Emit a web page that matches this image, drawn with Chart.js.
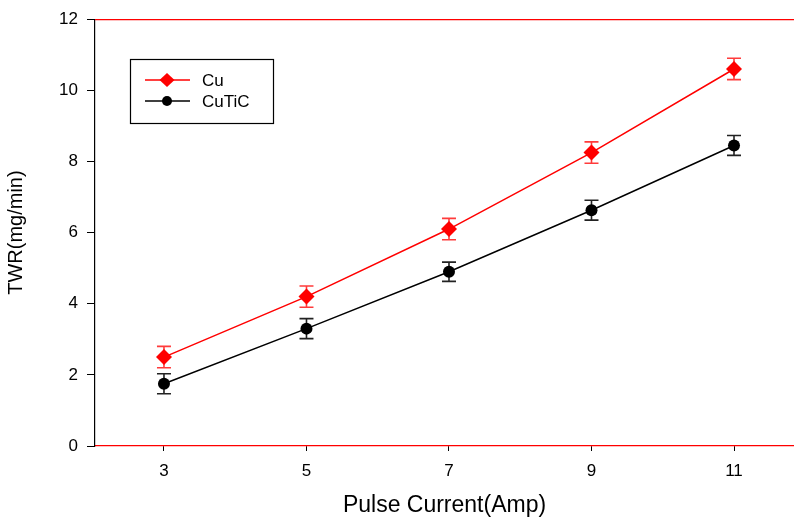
<!DOCTYPE html>
<html><head><meta charset="utf-8">
<script src="https://cdn.jsdelivr.net/npm/chart.js@4"></script>
<style>html,body{margin:0;padding:0;background:#fff;overflow:hidden}#wrap{width:794px;height:521px}</style>
</head><body><div id="wrap"><canvas id="c"></canvas></div>
<script>
const xValues = [3, 5, 7, 9, 11];
const cuValues = [2.5, 4.2, 6.1, 8.25, 10.6];
const cuErrors = [0.3, 0.3, 0.3, 0.3, 0.3];
const cuticValues = [1.75, 3.3, 4.9, 6.63, 8.45];
const cuticErrors = [0.28, 0.28, 0.27, 0.28, 0.28];
const xTicks = [3, 5, 7, 9, 11];
const yTicks = [0, 2, 4, 6, 8, 10, 12];
const seriesNames = ['Cu', 'CuTiC'];

const FONT = '"Liberation Sans", Arial, sans-serif';

const errorBars = {
  id: 'errorBars',
  beforeDatasetsDraw(chart) {
    const ctx = chart.ctx, xs = chart.scales.x, ys = chart.scales.y;
    chart.data.datasets.forEach(ds => {
      ctx.save();
      ctx.strokeStyle = ds.errColor;
      ctx.lineWidth = 1.6;
      ds.data.forEach((p, i) => {
        const e = ds.errors[i];
        const px = xs.getPixelForValue(p.x);
        const t = ys.getPixelForValue(p.y + e), b = ys.getPixelForValue(p.y - e);
        ctx.beginPath();
        ctx.moveTo(px, t); ctx.lineTo(px, b);
        ctx.moveTo(px - 7, t); ctx.lineTo(px + 7, t);
        ctx.moveTo(px - 7, b); ctx.lineTo(px + 7, b);
        ctx.stroke();
      });
      ctx.restore();
    });
  }
};

const frame = {
  id: 'frame',
  afterDraw(chart) {
    const ctx = chart.ctx, a = chart.chartArea;
    ctx.save();
    ctx.strokeStyle = '#ff0000';
    ctx.lineWidth = 1.2;
    ctx.beginPath(); ctx.moveTo(a.left, a.top + 0.5); ctx.lineTo(chart.width, a.top + 0.5); ctx.stroke();
    // legend box
    const bx = 130.5, by = 59.5, bw = 143, bh = 64;
    ctx.strokeStyle = '#000'; ctx.lineWidth = 1.2;
    ctx.strokeRect(bx, by, bw, bh);
    chart.data.datasets.forEach((ds, i) => {
      const y = 80 + i * 21;
      ctx.strokeStyle = ds.borderColor; ctx.lineWidth = 1.5;
      ctx.beginPath(); ctx.moveTo(145, y); ctx.lineTo(190, y); ctx.stroke();
      ctx.fillStyle = ds.pointBackgroundColor;
      ctx.beginPath();
      if (ds.pointStyle === 'rectRot') {
        ctx.moveTo(167, y - 7); ctx.lineTo(174.5, y); ctx.lineTo(167, y + 7); ctx.lineTo(159.5, y);
        ctx.closePath();
      } else {
        ctx.arc(167, y, 5, 0, Math.PI * 2);
      }
      ctx.fill();
      ctx.fillStyle = '#000';
      ctx.font = '17px ' + FONT;
      ctx.textBaseline = 'middle';
      ctx.fillText(seriesNames[i], 202, y + 1);
    });
    ctx.restore();
  }
};

new Chart(document.getElementById('c'), {
  type: 'line',
  data: {
    datasets: [
      {
        label: seriesNames[0],
        data: xValues.map((x, i) => ({x, y: cuValues[i]})),
        errors: cuErrors,
        errColor: '#ff3b3b',
        borderColor: '#ff0000', borderWidth: 1.5,
        pointStyle: 'rectRot', pointRadius: 8, pointHoverRadius: 8,
        pointBackgroundColor: '#ff0000', pointBorderColor: '#ff0000', pointBorderWidth: 0,
        tension: 0
      },
      {
        label: seriesNames[1],
        data: xValues.map((x, i) => ({x, y: cuticValues[i]})),
        errors: cuticErrors,
        errColor: '#222',
        borderColor: '#000', borderWidth: 1.5,
        pointStyle: 'circle', pointRadius: 6, pointHoverRadius: 6,
        pointBackgroundColor: '#000', pointBorderColor: '#000', pointBorderWidth: 0,
        tension: 0
      }
    ]
  },
  options: {
    responsive: true, maintainAspectRatio: false, animation: false,
    layout: { autoPadding: false, padding: { top: 18, right: 0, left: 0, bottom: 0 } },
    plugins: { legend: { display: false }, tooltip: { enabled: false } },
    scales: {
      x: {
        type: 'linear', min: 2.032, max: 11.842,
        afterBuildTicks: s => { s.ticks = xTicks.map(v => ({value: v})); },
        afterFit: s => { s.height = 75; s.paddingRight = 0; s.paddingLeft = 0; },
        grid: { drawOnChartArea: false, tickLength: 5, color: '#000', tickColor: '#000' },
        border: { color: '#ff0000', width: 1.2 },
        ticks: { color: '#000', font: { family: FONT, size: 17 }, padding: 10, maxRotation: 0 },
        title: { display: true, text: 'Pulse Current(Amp)', color: '#000', font: { family: FONT, size: 23 }, padding: { top: 4, bottom: 2 } }
      },
      y: {
        min: 0, max: 12,
        afterBuildTicks: s => { s.ticks = yTicks.map(v => ({value: v})); },
        afterFit: s => { s.width = 95; },
        grid: { drawOnChartArea: false, tickLength: 8, color: '#000', tickColor: '#000' },
        border: { color: '#000', width: 1.2 },
        ticks: { color: '#000', font: { family: FONT, size: 17 }, padding: 9 },
        title: { display: true, text: 'TWR(mg/min)', color: '#000', font: { family: FONT, size: 20 }, padding: { top: 4, bottom: 4 } }
      }
    }
  },
  plugins: [errorBars, frame]
});
</script></body></html>
